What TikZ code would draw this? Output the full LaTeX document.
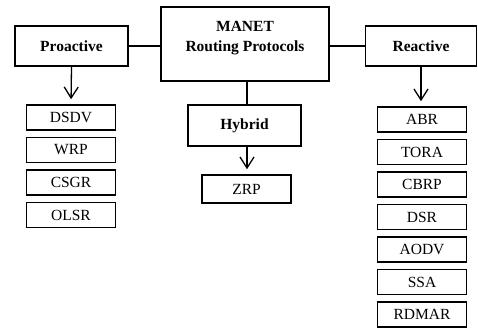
\documentclass[tikz,border=0pt]{standalone}
\usepackage{fontspec}
\setmainfont{Liberation Serif}
\usetikzlibrary{arrows.meta,positioning}
\tikzset{
class_box/.style={
	% The shape:
	rectangle,
	% The border:
	line width=1.8pt,
	draw=black,
	% Font
	font=\fontsize{15.5}{20}\selectfont\bfseries
},
proto_box/.style={
	% The shape:
	rectangle,
	% The size:
	minimum width=89pt,
	minimum height=25pt,
	inner sep=0pt,
	% The border:
	line width=1.6pt,
	draw=black,
	% Font
	font=\fontsize{15.5}{18}\selectfont
},
link/.style={line width=1.8pt},
down/.style={line width=1.3pt,-{Straight Barb[length=11pt,width=14pt,line width=1.3pt]},shorten >=5pt}
}
\begin{document}
\begin{tikzpicture}[x=1pt,y=-1pt]
	\useasboundingbox (0,0) rectangle (478,329);
	% top level
	\node[class_box,minimum width=168pt,minimum height=74pt,align=center] (manet) at (245,44)
		{MANET\\Routing Protocols\\[-4pt]\mbox{}};
	\node[class_box,minimum width=113pt,minimum height=40pt] (proactive) at (71.5,46) {Proactive};
	\node[class_box,minimum width=111pt,minimum height=40pt] (reactive) at (421,46) {Reactive};
	\node[class_box,minimum width=113pt,minimum height=41pt] (hybrid) at (244.5,125.5) {Hybrid};
	\draw[link] (proactive.east) -- (proactive.east -| manet.west);
	\draw[link] (reactive.west) -- (reactive.west -| manet.east);
	\draw[link] (hybrid.north -| 247,0) -- (manet.south -| 247,0);
	% protocols
	\node[proto_box] (dsdv) at (71,117.5) {DSDV};
	\foreach \name/\prev in {WRP/dsdv,CSGR/WRP,OLSR/CSGR}
		\node[proto_box,below=5.9pt of \prev] (\name) {\name};
	\node[proto_box,minimum height=28pt] (zrp) at (246.5,189) {ZRP};
	\node[proto_box] (abr) at (422,119.5) {ABR};
	\foreach \name/\prev in {TORA/abr,CBRP/TORA,DSR/CBRP,AODV/DSR,SSA/AODV,RDMAR/SSA}
		\node[proto_box,below=5.9pt of \prev] (\name) {\name};
	\draw[down] (proactive.south) -- (dsdv.north);
	\draw[down] (hybrid.south -| 247,0) -- (zrp.north -| 247,0);
	\draw[down] (reactive.south) -- (abr.north -| reactive.south);
\end{tikzpicture}
\end{document}
